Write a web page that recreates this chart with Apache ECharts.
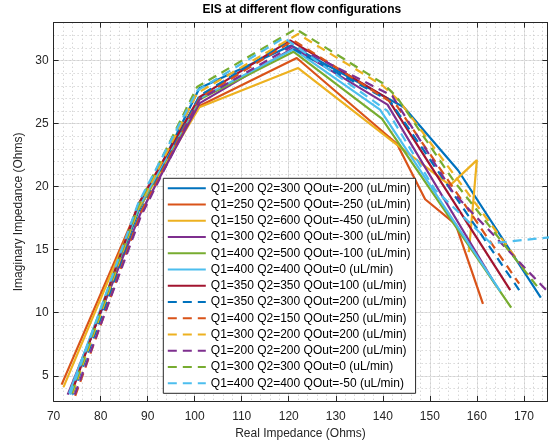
<!DOCTYPE html>
<html>
<head>
<meta charset="utf-8">
<script src="https://cdn.jsdelivr.net/npm/echarts@6/dist/echarts.min.js"></script>
<style>
html,body{margin:0;padding:0;background:#fff;}
#chart{width:552px;height:445px;}
</style>
</head>
<body>
<div id="chart"></div>
<script>
// ---- data ----
const seriesNames = [
  'Q1=200 Q2=300 QOut=-200 (uL/min)',
  'Q1=250 Q2=500 QOut=-250 (uL/min)',
  'Q1=150 Q2=600 QOut=-450 (uL/min)',
  'Q1=300 Q2=600 QOut=-300 (uL/min)',
  'Q1=400 Q2=500 QOut=-100 (uL/min)',
  'Q1=400 Q2=400 QOut=0 (uL/min)',
  'Q1=350 Q2=350 QOut=100 (uL/min)',
  'Q1=350 Q2=300 QOut=200 (uL/min)',
  'Q1=400 Q2=150 QOut=250 (uL/min)',
  'Q1=300 Q2=200 QOut=200 (uL/min)',
  'Q1=200 Q2=200 QOut=200 (uL/min)',
  'Q1=300 Q2=300 QOut=0 (uL/min)',
  'Q1=400 Q2=400 QOut=-50 (uL/min)'
];
const re1 = [73.5, 88, 101, 120.5, 140, 144.5, 156, 173.6];
const im1 = [3.6, 18.0, 27.8, 31.2, 27.2, 26.3, 21.3, 11.2];
const re2 = [71.7, 88, 101, 121.7, 143, 149, 155.5, 161.3];
const im2 = [4.3, 18.4, 26.4, 30.2, 23.4, 19.0, 17.0, 10.7];
const re3 = [72.1, 88, 101, 122, 142, 154.3, 160, 158.3];
const im3 = [4.1, 18.2, 26.3, 29.4, 23.6, 20.1, 22.1, 14.8];
const re4 = [73, 88.5, 101, 121, 141, 164];
const im4 = [3.5, 17.9, 26.6, 31.0, 26.5, 12.2];
const re5 = [73.5, 88, 101, 121, 139.8, 167.3];
const im5 = [3.7, 18.2, 26.9, 30.7, 25.4, 10.4];
const re6 = [73.3, 88, 101, 121, 139.4, 165];
const im6 = [3.6, 18.3, 27.0, 30.9, 26.1, 11.7];
const re7 = [73.8, 88, 101, 120.3, 141, 167.1];
const im7 = [3.6, 18.6, 27.1, 31.6, 27.0, 11.8];
const re8 = [74, 88.5, 101, 119, 141.5, 169];
const im8 = [3.5, 18.0, 27.2, 31.3, 26.8, 11.8];
const re9 = [74.6, 88.5, 101, 121, 143, 169];
const im9 = [3.4, 17.9, 27.0, 31.6, 26.4, 12.3];
const re10 = [74, 88, 100.5, 122, 140, 143.5, 171];
const im10 = [3.6, 18.3, 27.4, 32.1, 28.0, 26.8, 13.0];
const re11 = [74.5, 88.5, 101, 121, 142, 155, 176];
const im11 = [3.5, 17.6, 26.9, 31.2, 27.2, 19.5, 11.3];
const re12 = [73.8, 88, 100.5, 121.5, 140, 143, 155, 173];
const im12 = [3.6, 18.5, 27.9, 32.5, 28.2, 27.1, 20.5, 12.0];
const re13 = [73.5, 88, 100.5, 119, 141, 151, 163, 176];
const im13 = [3.5, 18.7, 27.6, 31.8, 26.0, 19.8, 15.5, 16.0];

const reList = [re1, re2, re3, re4, re5, re6, re7, re8, re9, re10, re11, re12, re13];
const imList = [im1, im2, im3, im4, im5, im6, im7, im8, im9, im10, im11, im12, im13];
const dashedFlags = [false, false, false, false, false, false, false, true, true, true, true, true, true];

const xRange = [70, 175];
const yRange = [3, 33];

// ---- styling ----
const palette = ['#0072BD', '#D95319', '#EDB120', '#7E2F8E', '#77AC30', '#4DBEEE', '#A2142F'];
const FONT = '"Liberation Sans", Arial, Helvetica, sans-serif';
const INK = '#262626';

const series = seriesNames.map((name, i) => ({
  name: name,
  type: 'line',
  xAxisIndex: 0,
  yAxisIndex: 0,
  showSymbol: false,
  symbol: 'none',
  animation: false,
  clip: true,
  lineStyle: {
    color: palette[i % 7],
    width: 2.2,
    type: dashedFlags[i] ? [9, 6] : 'solid'
  },
  itemStyle: { color: palette[i % 7] },
  data: reList[i].map((x, j) => [x, imList[i][j]])
}));

const chart = echarts.init(document.getElementById('chart'), null, { renderer: 'canvas' });
const grid = { left: 53.6, right: 4.6, top: 22.7, bottom: 42.8, containLabel: false };

const baseAxisLine = { show: true, lineStyle: { color: INK, width: 1 } };
const baseTick = { show: true, inside: true, length: 5, lineStyle: { color: INK, width: 1 } };

chart.setOption({
  animation: false,
  backgroundColor: '#ffffff',
  textStyle: { fontFamily: FONT },
  grid: grid,
  graphic: [{
    type: 'text',
    left: 300.5 - 98,
    top: 4,
    style: {
      text: 'EIS at different flow configurations',
      font: 'bold 12px ' + FONT,
      fill: '#000000'
    }
  }],
  legend: {
    orient: 'vertical',
    left: 163.3,
    top: 178.3,
    itemWidth: 38,
    itemHeight: 12,
    itemGap: 4.25,
    padding: [4, 5, 4, 3.5],
    backgroundColor: '#ffffff',
    borderColor: INK,
    borderWidth: 1,
    itemStyle: { opacity: 0, borderWidth: 0 },
    textStyle: { fontFamily: FONT, fontSize: 12, color: '#000000', padding: [0, 0, 0, 0] },
    data: seriesNames
  },
  xAxis: [
    {
      type: 'value', min: xRange[0], max: xRange[1], interval: 10, position: 'bottom',
      axisLine: baseAxisLine, axisTick: baseTick,
      axisLabel: { show: true, showMaxLabel: false, margin: 10, color: INK, fontSize: 12, fontFamily: FONT },
      splitLine: { show: true, lineStyle: { color: '#e2e2e2', width: 1 } },
      name: 'Real Impedance (Ohms)', nameLocation: 'middle', nameGap: 27,
      nameTextStyle: { color: INK, fontSize: 12, fontFamily: FONT }
    },
    {
      type: 'value', min: xRange[0], max: xRange[1], interval: 10, position: 'top',
      axisLine: baseAxisLine, axisTick: baseTick,
      axisLabel: { show: false }, splitLine: { show: false }
    },
    {
      type: 'value', min: xRange[0], max: xRange[1], interval: 2, position: 'bottom',
      axisLine: { show: false }, axisTick: { show: false }, axisLabel: { show: false },
      splitLine: { show: true, lineStyle: { color: '#c4c4c4', width: 1, type: [1, 3] } }
    }
  ],
  yAxis: [
    {
      type: 'value', min: yRange[0], max: yRange[1], splitNumber: 6, position: 'left',
      axisLine: baseAxisLine, axisTick: baseTick,
      axisLabel: { show: true, showMinLabel: false, showMaxLabel: false, margin: 5, color: INK, fontSize: 12, fontFamily: FONT },
      splitLine: { show: true, lineStyle: { color: '#e2e2e2', width: 1 } },
      name: 'Imaginary Impedance (Ohms)', nameLocation: 'middle', nameGap: 23,
      nameTextStyle: { color: INK, fontSize: 12, fontFamily: FONT }
    },
    {
      type: 'value', min: yRange[0], max: yRange[1], splitNumber: 6, position: 'right',
      axisLine: baseAxisLine, axisTick: baseTick,
      axisLabel: { show: false }, splitLine: { show: false }
    },
    {
      type: 'value', min: yRange[0], max: yRange[1], interval: 1, position: 'left',
      axisLine: { show: false }, axisTick: { show: false }, axisLabel: { show: false },
      splitLine: { show: true, lineStyle: { color: '#c4c4c4', width: 1, type: [1, 3] } }
    }
  ],
  series: series
});
</script>
</body>
</html>
